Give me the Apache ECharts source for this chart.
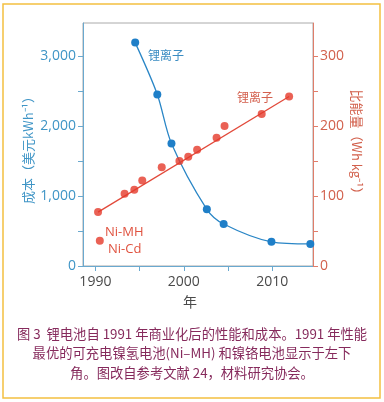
<!DOCTYPE html>
<html><head><meta charset="utf-8">
<script src="https://cdn.jsdelivr.net/npm/echarts@6/dist/echarts.min.js"></script>
<style>html,body{margin:0;padding:0;background:#fff}#c{width:384px;height:402px}</style>
</head><body><div id="c"></div>
<script>
// Cost of Li-ion (US$ per kWh)
const costYears = [1994.5, 1997.0, 1998.6, 2002.6, 2004.5, 2009.9, 2014.3];
const costValues = [3190, 2450, 1750, 810, 600, 345, 315];
// Specific energy of Li-ion (Wh/kg)
const energyYears = [1990.3, 1993.3, 1994.4, 1995.3, 1997.5, 1999.5, 2000.5, 2001.5, 2003.7, 2004.6, 2008.8, 2011.9];
const energyValues = [77, 103, 109, 122, 141, 150, 156, 166, 183, 200, 217, 242];
// Trend line endpoints
const trendYears = [1990.3, 2011.9];
const trendValues = [77, 242];
// Ni-Cd point
const nicdYears = [1990.5];
const nicdValues = [36];
// ticks
const xLabelTicks = [1990, 2000, 2010];
const xTicks = [1990, 1995, 2000, 2005, 2010];
const costLabelTicks = [0, 1000, 2000, 3000];
const costTicks = [0, 500, 1000, 1500, 2000, 2500, 3000];
const energyLabelTicks = [0, 100, 200, 300];
const energyTicks = [0, 50, 100, 150, 200, 250, 300];

const zip = (a, b) => a.map((v, i) => [v, b[i]]);
const BLUE = '#1f7fc8', RED = '#e5392b';
const AXB = '#6aa9cf', AXR = '#df7d6a';
const chart = echarts.init(document.getElementById('c'), null, {renderer: 'canvas'});
const font = '"Open Sans", "Noto Sans CJK SC", sans-serif';
const cap = '#862a5c';
const capFont = '13.3px "Noto Sans CJK SC"';
chart.setOption({
  animation: false,
  backgroundColor: '#fff',
  grid: {left: 83, top: 23, right: 71, bottom: 136, show: true, borderColor: '#aaaaaa', borderWidth: 1, backgroundColor: 'transparent'},
  xAxis: {
    type: 'value', min: 1988.6, max: 2014.6,
    axisLine: {show: true, lineStyle: {color: AXB, width: 1}},
    axisTick: {show: true, customValues: xTicks, length: 5, lineStyle: {color: AXB}},
    axisLabel: {customValues: xLabelTicks, color: '#4a4a4a', fontSize: 14, fontFamily: font, margin: 9,
      formatter: v => String(v)},
    splitLine: {show: false}
  },
  yAxis: [{
    type: 'value', min: 0, max: 3470, position: 'left',
    axisLine: {show: true, lineStyle: {color: AXB, width: 1}},
    axisTick: {show: true, customValues: costTicks, length: 5, lineStyle: {color: AXB}},
    axisLabel: {customValues: costLabelTicks, color: '#3f95c6', fontSize: 14, fontFamily: font, margin: 7,
      formatter: v => v.toLocaleString('en-US')},
    splitLine: {show: false}
  }, {
    type: 'value', min: 0, max: 347, position: 'right',
    axisLine: {show: true, lineStyle: {color: AXR, width: 1}},
    axisTick: {show: true, customValues: energyTicks, length: 5, lineStyle: {color: AXR}},
    axisLabel: {customValues: energyLabelTicks, color: '#d2604c', fontSize: 14, fontFamily: font, margin: 7,
      formatter: v => String(v)},
    splitLine: {show: false}
  }],
  series: [{
    type: 'line', yAxisIndex: 0, data: zip(costYears, costValues), smooth: 0.3,
    symbol: 'circle', symbolSize: 8, itemStyle: {color: BLUE}, lineStyle: {color: '#2a86c6', width: 1.3}, z: 3
  }, {
    type: 'line', yAxisIndex: 1, data: zip(trendYears, trendValues), symbol: 'none',
    lineStyle: {color: '#e2493a', width: 1.3}, z: 2
  }, {
    type: 'scatter', yAxisIndex: 1, data: zip(energyYears, energyValues),
    symbol: 'circle', symbolSize: 8, itemStyle: {color: RED}, z: 4
  }, {
    type: 'scatter', yAxisIndex: 1, data: zip(nicdYears, nicdValues),
    symbol: 'circle', symbolSize: 8, itemStyle: {color: RED}, z: 4
  }],
  graphic: [
    {type: 'rect', shape: {x: 3, y: 4, width: 377, height: 394}, style: {fill: 'none', stroke: '#f4c040', lineWidth: 1.5}, silent: true},
    {type: 'text', x: 148, y: 55, style: {text: '锂离子', fill: '#3a8cc2', font: '12px "Noto Sans CJK SC"', textVerticalAlign: 'middle'}},
    {type: 'text', x: 237, y: 97, style: {text: '锂离子', fill: '#d4604e', font: '12px "Noto Sans CJK SC"', textVerticalAlign: 'middle'}},
    {type: 'text', x: 105, y: 232, style: {text: 'Ni-MH', fill: '#e0523f', font: '13px "Open Sans"', textVerticalAlign: 'middle'}},
    {type: 'text', x: 108, y: 249, style: {text: 'Ni-Cd', fill: '#e0523f', font: '13px "Open Sans"', textVerticalAlign: 'middle'}},
    {type: 'text', x: 28, y: 147, rotation: Math.PI / 2, style: {text: '成本（美元kWh⁻¹）', fill: '#3f95c6', font: '13px "Noto Sans CJK SC"', textAlign: 'center', textVerticalAlign: 'middle'}},
    {type: 'text', x: 357, y: 145, rotation: -Math.PI / 2, style: {text: '比能量（Wh kg⁻¹）', fill: '#d2604c', font: '13px "Noto Sans CJK SC"', textAlign: 'center', textVerticalAlign: 'middle'}},
    {type: 'text', x: 190, y: 302, style: {text: '年', fill: '#4a4a4a', font: '14px "Noto Sans CJK SC"', textAlign: 'center', textVerticalAlign: 'middle'}},
    {type: 'text', x: 192, y: 334, style: {text: '图 3  锂电池自 1991 年商业化后的性能和成本。1991 年性能', fill: cap, font: capFont, textAlign: 'center', textVerticalAlign: 'middle'}},
    {type: 'text', x: 192, y: 353, style: {text: '最优的可充电镍氢电池(Ni–MH) 和镍铬电池显示于左下', fill: cap, font: capFont, textAlign: 'center', textVerticalAlign: 'middle'}},
    {type: 'text', x: 192, y: 373, style: {text: '角。图改自参考文献 24，材料研究协会。', fill: cap, font: capFont, textAlign: 'center', textVerticalAlign: 'middle'}}
  ]
});
</script></body></html>
